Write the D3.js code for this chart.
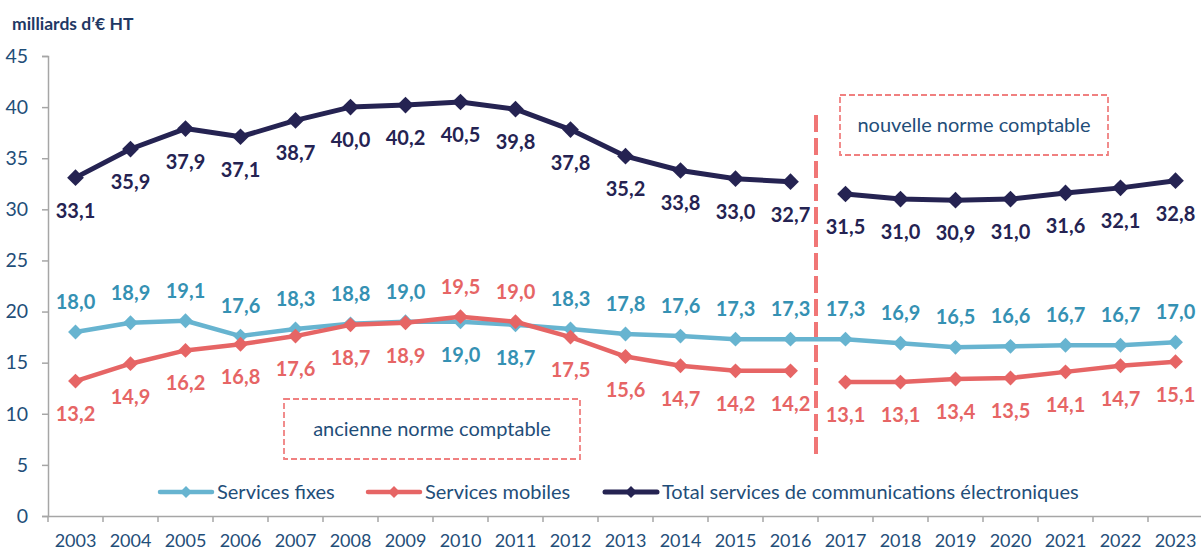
<!DOCTYPE html>
<html>
<head>
<meta charset="utf-8">
<script src="https://d3js.org/d3.v7.min.js"></script>
<style>
  body { margin: 0; background: #ffffff; }
  text { font-family: Lato, "Open Sans", sans-serif; }
</style>
</head>
<body>
<div id="chart"></div>
<script>
// data
var years = ["2003","2004","2005","2006","2007","2008","2009","2010","2011","2012","2013",
             "2014","2015","2016","2017","2018","2019","2020","2021","2022","2023"];
var total   = [33.1,35.9,37.9,37.1,38.7,40.0,40.2,40.5,39.8,37.8,35.2,33.8,33.0,32.7,
               31.5,31.0,30.9,31.0,31.6,32.1,32.8];
var fixes   = [18.0,18.9,19.1,17.6,18.3,18.8,19.0,19.0,18.7,18.3,17.8,17.6,17.3,17.3,
               17.3,16.9,16.5,16.6,16.7,16.7,17.0];
var mobiles = [13.2,14.9,16.2,16.8,17.6,18.7,18.9,19.5,19.0,17.5,15.6,14.7,14.2,14.2,
               13.1,13.1,13.4,13.5,14.1,14.7,15.1];
var yTicks = [0,5,10,15,20,25,30,35,40,45];
var breakYear = "2017"; // change of accounting standard

var w = 1201, h = 551;
var svg = d3.select("#chart").append("svg").attr("width", w).attr("height", h);

var x = d3.scaleBand().domain(years).range([48, 1203]);
var y = d3.scaleLinear().domain([0, 45]).range([516, 56]);
var cx = function(i) { return x(years[i]) + x.bandwidth() / 2; };
var fmt = function(v) { return v.toFixed(1).replace(".", ","); };

var axisCol = "#a6a6a6", textCol = "#1f4e79";

// title
svg.append("text").attr("x", 12).attr("y", 30).text("milliards d\u2019\u20AC HT")
  .style("font-size", "17.5px").style("font-weight", "bold").style("fill", "#1f3864");

// y axis
var ya = svg.append("g").attr("transform", "translate(48,0)")
  .call(d3.axisLeft(y).tickValues(yTicks).tickSize(6).tickPadding(14).tickFormat(d3.format("d")));
ya.select(".domain").attr("stroke", axisCol).attr("stroke-width", 1.5);
ya.selectAll(".tick line").attr("stroke", axisCol).attr("stroke-width", 1.5);
ya.selectAll("text").style("font-size", "19.5px").style("fill", textCol).style("font-family", "Lato, sans-serif");

// x axis
var xa = svg.append("g").attr("transform", "translate(0,516)")
  .call(d3.axisBottom(x).tickSize(0).tickPadding(18));
xa.select(".domain").attr("stroke", axisCol).attr("stroke-width", 1.5);
xa.selectAll("text").style("font-size", "18px").style("fill", textCol).style("font-family", "Lato, sans-serif");
svg.append("g").selectAll("line").data(years.concat(["end"])).enter().append("line")
  .attr("x1", function(d, i) { return x.range()[0] + i * x.step(); })
  .attr("x2", function(d, i) { return x.range()[0] + i * x.step(); })
  .attr("y1", 516).attr("y2", 522).attr("stroke", axisCol).attr("stroke-width", 1.5);

// break line + boxes
var bx = x(breakYear);
svg.append("line").attr("x1", bx - 2).attr("x2", bx - 2).attr("y1", 115).attr("y2", 457)
  .attr("stroke", "#f07676").attr("stroke-width", 4).attr("stroke-dasharray", "17,6");

function box(x0, y0, bw, bh, label) {
  svg.append("rect").attr("x", x0).attr("y", y0).attr("width", bw).attr("height", bh)
    .attr("fill", "none").attr("stroke", "#f08080").attr("stroke-width", 1.8)
    .attr("stroke-dasharray", "6,3");
  svg.append("text").attr("x", x0 + bw / 2).attr("y", y0 + bh / 2 + 7)
    .attr("text-anchor", "middle").text(label)
    .style("font-size", "20px").style("fill", textCol);
}
box(840, 95, 268, 60, "nouvelle norme comptable");
box(284, 399, 296, 60, "ancienne norme comptable");

// series
var series = [
  { name: "Services fixes", vals: fixes, col: "#67b4d0", txt: "#3591b3", sw: 4.5, ms: 8, split: false,
    above: function(i) { return !(i === 7 || i === 8); } },
  { name: "Services mobiles", vals: mobiles, col: "#e66565", txt: "#e66565", sw: 4.5, ms: 8, split: true,
    above: function(i) { return i === 7 || i === 8; } },
  { name: "Total services de communications \u00e9lectroniques", vals: total, col: "#252352", txt: "#252352",
    sw: 5, ms: 9, split: true, above: function() { return false; } }
];

series.forEach(function(s) {
  var idx = d3.range(years.length);
  var segs = s.split ? [idx.slice(0, 14), idx.slice(14)] : [idx];
  var ln = d3.line().x(function(i) { return cx(i); }).y(function(i) { return y(s.vals[i]); });
  segs.forEach(function(seg) {
    svg.append("path").datum(seg).attr("d", ln).attr("fill", "none")
      .attr("stroke", s.col).attr("stroke-width", s.sw).attr("stroke-linejoin", "round");
  });
  svg.append("g").selectAll("path").data(idx).enter().append("path")
    .attr("d", d3.symbol().type(d3.symbolDiamond2).size(s.ms * s.ms * 2.2))
    .attr("transform", function(i) { return "translate(" + cx(i) + "," + y(s.vals[i]) + ")"; })
    .attr("fill", s.col);
  svg.append("g").selectAll("text").data(idx).enter().append("text")
    .attr("x", function(i) { return cx(i); })
    .attr("y", function(i) { return y(s.vals[i]) + (s.above(i) ? -23 : 40); })
    .attr("text-anchor", "middle").text(function(i) { return fmt(s.vals[i]); })
    .style("font-size", "20px").style("font-weight", "bold").style("fill", s.txt);
});

// legend
var legX = [160, 368, 605];
series.forEach(function(s, k) {
  var g = svg.append("g").attr("transform", "translate(" + legX[k] + ",492)");
  g.append("line").attr("x1", 0).attr("x2", 52).attr("stroke", s.col).attr("stroke-width", s.sw)
    .attr("stroke-linecap", "round");
  g.append("path").attr("d", d3.symbol().type(d3.symbolDiamond2).size(90))
    .attr("transform", "translate(26,0)").attr("fill", s.col);
  g.append("text").attr("x", 57).attr("y", 7).text(s.name)
    .style("font-size", "20px").style("fill", textCol);
});
</script>
</body>
</html>
